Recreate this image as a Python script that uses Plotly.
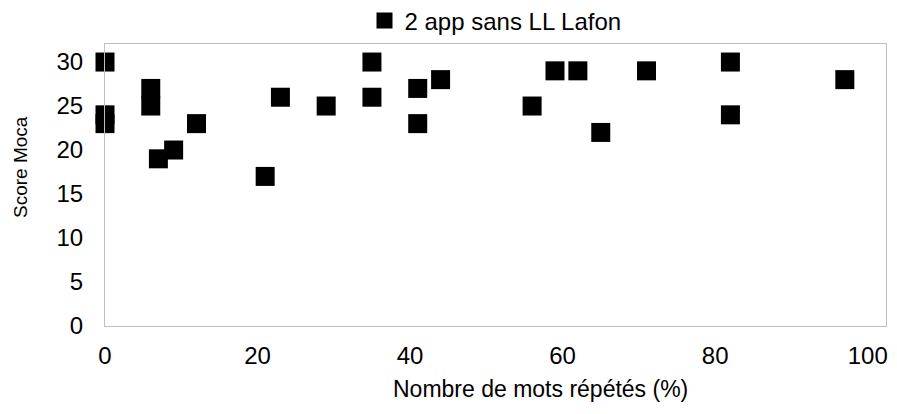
import plotly.graph_objects as go

series_name = "2 app sans LL Lafon"
x_vals = [0, 0, 0, 6, 6, 7, 9, 12, 21, 23, 29, 35, 35, 41, 41, 44, 56, 59, 62, 65, 71, 82, 82, 97]
y_vals = [30, 24, 23, 27, 25, 19, 20, 23, 17, 26, 25, 30, 26, 27, 23, 28, 25, 29, 29, 22, 29, 30, 24, 28]
x_ticks = [0, 20, 40, 60, 80, 100]
y_ticks = [0, 5, 10, 15, 20, 25, 30]
x_title = "Nombre de mots répétés (%)"
y_title = "Score Moca"

fig = go.Figure()
fig.add_trace(go.Scatter(
    x=x_vals, y=y_vals, mode="markers", name=series_name,
    marker=dict(symbol="square", size=19, color="black", line=dict(width=0)),
    cliponaxis=False, showlegend=True,
))

font = "Liberation Sans, Arial, sans-serif"
fig.update_layout(
    width=897, height=414,
    margin=dict(l=105, r=11, t=44, b=88),
    paper_bgcolor="white", plot_bgcolor="white",
    font=dict(family=font, color="black", size=24),
    showlegend=True,
    legend=dict(orientation="h", x=0.5, xanchor="center",
                yref="container", y=1 - 21 / 414, yanchor="middle",
                font=dict(size=24), itemsizing="trace", bgcolor="rgba(0,0,0,0)",
                itemwidth=30, tracegroupgap=0),
    xaxis=dict(range=[0, 102.4], tickvals=x_ticks, showgrid=False, zeroline=False,
               showline=True, linecolor="#bfbfbf", linewidth=1, mirror=True,
               ticks="", ticklabelstandoff=8, automargin=False,
               tickfont=dict(size=24)),
    yaxis=dict(range=[0, 32.05], tickvals=y_ticks, showgrid=False, zeroline=False,
               showline=True, linecolor="#bfbfbf", linewidth=1, mirror=True,
               ticks="", ticklabelstandoff=16, automargin=False,
               tickfont=dict(size=24)),
    annotations=[
        dict(text=x_title, xref="paper", yref="paper", x=(540 - 105) / 781, y=0,
             xanchor="center", yanchor="middle", yshift=-63, showarrow=False,
             font=dict(size=23)),
        dict(text=y_title, xref="paper", yref="paper", x=0, y=(326 - 167) / 282,
             xanchor="center", yanchor="middle", xshift=-85, showarrow=False,
             textangle=-90, font=dict(size=19)),
    ],
)

fig.write_html("out.html", config={"displayModeBar": False},
               post_script="document.body.style.margin='0';")
